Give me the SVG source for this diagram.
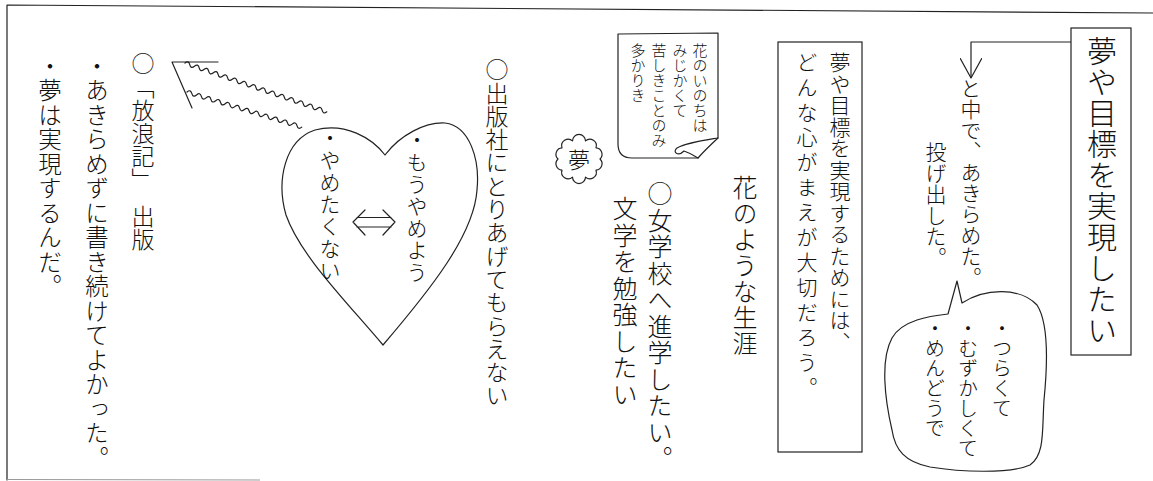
<svg xmlns="http://www.w3.org/2000/svg" width="1153" height="481" viewBox="0 0 1153 481">
<style>
.v{writing-mode:vertical-rl;font-family:"Noto Sans CJK JP","Noto Sans CJK SC",sans-serif;font-weight:300;fill:#111}
.s{fill:none;stroke:#222;stroke-width:1.2;stroke-linejoin:round;stroke-linecap:round}
.box{fill:#fff;stroke:#222;stroke-width:1.2}
</style>
<defs>
<marker id="openArrow" viewBox="0 0 20 22" markerWidth="20" markerHeight="22" refX="20" refY="11" orient="auto" markerUnits="userSpaceOnUse">
<path d="M0,0 L20,11 L0,22" fill="none" stroke="#222" stroke-width="1.2"/>
</marker>
</defs>
<rect width="1153" height="481" fill="#fff"/>
<g id="frame">
<path class="s" d="M1153 13 L7 5 L7 480"/>
<path d="M7 479.5 L260 480" stroke="#999" stroke-width="1" fill="none"/>
</g>
<g id="connectors">
<path class="s" d="M1071 42 H971 V78" marker-end="url(#openArrow)"/>
</g>
<g id="goal">
<rect class="box" x="1071" y="28" width="60" height="327"/>
<text class="v" x="1102" y="36" font-size="30" letter-spacing="1">夢や目標を実現したい</text>
</g>
<g id="gaveup">
<text class="v" x="971" y="78" font-size="21">と中で、あきらめた。</text>
<text class="v" x="936" y="142" font-size="21">投げ出した。</text>
</g>
<g id="bubble">
<path class="s" d="M957 281 L962 303 C985 288,1020 287,1037 305 C1050 325,1047 370,1044 400 C1042 430,1045 455,1030 465 C1010 474,960 472,930 467 C905 462,895 450,892 430 C885 400,880 360,892 338 C902 320,930 316,948 314 Z" fill="#fff"/>
<text class="v" x="1002" y="318" font-size="20">・つらくて</text>
<text class="v" x="968" y="318" font-size="20">・むずかしくて</text>
<text class="v" x="935" y="318" font-size="20">・めんどうで</text>
</g>
<g id="question">
<rect class="box" x="778" y="42" width="84" height="410"/>
<text class="v" x="840" y="52" font-size="21" letter-spacing="0.5">夢や目標を実現するためには、</text>
<text class="v" x="807" y="52" font-size="21" letter-spacing="4">どんな心がまえが大切だろう。</text>
</g>
<g id="life">
<text class="v" x="745" y="175" font-size="25" letter-spacing="1">花のような生涯</text>
</g>
<g id="note">
<path class="s" d="M618 34 L718 33 L718 138 Q705 150 698 158 L632 158 Q618 158 618 144 Z" fill="#fff"/>
<path class="s" d="M718 138 C700 141,686 143,677 148 C672 152,678 157,684 151 C690 153,695 156,698 158"/>
<text class="v" x="700" y="43" font-size="15">花のいのちは</text>
<text class="v" x="680" y="43" font-size="15">みじかくて</text>
<text class="v" x="659" y="43" font-size="15">苦しきことのみ</text>
<text class="v" x="638" y="43" font-size="15">多かりき</text>
</g>
<g id="dream">
<path class="s" d="M600 159 A6.5 6.5 0 0 1 596 170.2 A6.5 6.5 0 0 1 585.5 177.1 A6.5 6.5 0 0 1 572.5 177.1 A6.5 6.5 0 0 1 562 170.2 A6.5 6.5 0 0 1 558 159 A6.5 6.5 0 0 1 562 147.8 A6.5 6.5 0 0 1 572.5 140.9 A6.5 6.5 0 0 1 585.5 140.9 A6.5 6.5 0 0 1 596 147.8 A6.5 6.5 0 0 1 600 159 Z"/>
<text x="579" y="167.5" font-size="22" text-anchor="middle" font-family="Noto Sans CJK JP, sans-serif" font-weight="300" fill="#111">夢</text>
</g>
<g id="school">
<text class="v" x="660" y="181" font-size="25" letter-spacing="1.5">○女学校へ進学したい。</text>
<text class="v" x="625" y="196" font-size="25" letter-spacing="1.5">文学を勉強したい</text>
</g>
<g id="rejected">
<text class="v" x="497" y="58" font-size="23" letter-spacing="0.3">○出版社にとりあげてもらえない</text>
</g>
<g id="heart">
<path class="s" d="M385 155 C400 135,425 122,445 123 C470 126,480 160,477 190 C474 235,430 290,383 345 C345 300,300 255,286 215 C276 180,285 140,315 130 C345 122,372 138,385 155 Z"/>
<text class="v" x="417" y="130" font-size="21" letter-spacing="1">・もうやめよう</text>
<text class="v" x="330" y="128" font-size="21" letter-spacing="1">・やめたくない</text>
<path class="s" d="M365 210 L353 222 L365 235 M383 210 L395 222 L383 235 M357 217.5 H391 M357 227 H391"/>
</g>
<g id="waves">
<path class="s" d="M218 62 H172 L192 108"/>
<path class="s" transform="translate(185,63) rotate(19)" d="M0 0 q2.5 -4 5 0 t5 0 t5 0 t5 0 t5 0 t5 0 t5 0 t5 0 t5 0 t5 0 t5 0 t5 0 t5 0 t5 0 t5 0 t5 0 t5 0 t5 0 t5 0 t5 0 t5 0 t5 0 t5 0 t5 0 t5 0 t5 0 t5 0 t5 0 t5 0 t5 0"/>
<path class="s" transform="translate(187,92) rotate(17)" d="M0 0 q2.5 -4 5 0 t5 0 t5 0 t5 0 t5 0 t5 0 t5 0 t5 0 t5 0 t5 0 t5 0 t5 0 t5 0 t5 0 t5 0 t5 0 t5 0 t5 0 t5 0 t5 0 t5 0 t5 0 t5 0 t5 0"/>
</g>
<g id="published">
<text class="v" x="143" y="52" font-size="23">○</text>
<text class="v" x="143" y="76" font-size="23">「放浪記」</text>
<text class="v" x="143" y="205" font-size="23">出版</text>
<text class="v" x="97" y="54" font-size="23.5" letter-spacing="1">・あきらめずに書き続けてよかった。</text>
<text class="v" x="50" y="54" font-size="23.5" letter-spacing="1">・夢は実現するんだ。</text>
</g>
</svg>
